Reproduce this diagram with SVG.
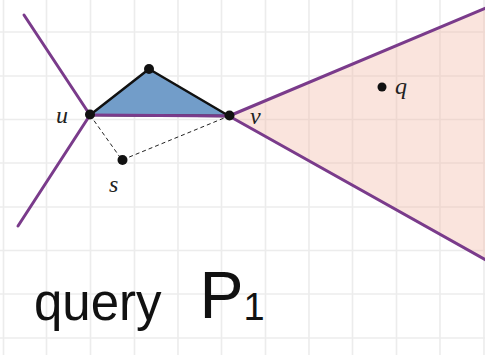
<svg xmlns="http://www.w3.org/2000/svg" width="485" height="355" viewBox="0 0 485 355">
<style>
.grid line{stroke:#ececec;stroke-width:1.6}
.ray{stroke:#7a3b8b;stroke-width:3;fill:none;stroke-linecap:round}
.dot{fill:#111}
.lbl{font-family:"Liberation Serif",serif;font-style:italic;font-size:24px;fill:#222}
.dash{stroke:#222;stroke-width:1;stroke-dasharray:4 3;fill:none}
.hand{font-family:"Liberation Sans",sans-serif;fill:#111}
</style>
<rect width="485" height="355" fill="#fff"/>
<g class="grid">
<line x1="3.5" y1="0" x2="3.5" y2="355"/><line x1="46.5" y1="0" x2="46.5" y2="355"/><line x1="90.5" y1="0" x2="90.5" y2="355"/><line x1="134.5" y1="0" x2="134.5" y2="355"/><line x1="178" y1="0" x2="178" y2="355"/><line x1="221.5" y1="0" x2="221.5" y2="355"/><line x1="265.5" y1="0" x2="265.5" y2="355"/><line x1="309" y1="0" x2="309" y2="355"/><line x1="352.5" y1="0" x2="352.5" y2="355"/><line x1="396.5" y1="0" x2="396.5" y2="355"/><line x1="440" y1="0" x2="440" y2="355"/><line x1="484" y1="0" x2="484" y2="355"/>
<line x1="0" y1="32" x2="485" y2="32"/><line x1="0" y1="76" x2="485" y2="76"/><line x1="0" y1="119.5" x2="485" y2="119.5"/><line x1="0" y1="163" x2="485" y2="163"/><line x1="0" y1="207" x2="485" y2="207"/><line x1="0" y1="250.5" x2="485" y2="250.5"/><line x1="0" y1="294" x2="485" y2="294"/><line x1="0" y1="338" x2="485" y2="338"/>
</g>
<g id="region">
<polygon points="229,116 485,8 485,260" fill="#f3b9a6" fill-opacity="0.38"/>
</g>
<g id="triangle">
<polygon points="90,115 149,69 229,116" fill="#729dc9" stroke="#111" stroke-width="2.5" stroke-linejoin="round"/>
</g>
<g id="connectors">
<line class="ray" x1="90" y1="115" x2="24" y2="15"/>
<line class="ray" x1="90" y1="115" x2="18" y2="226"/>
<line class="ray" x1="229" y1="116" x2="486" y2="8"/>
<line class="ray" x1="229" y1="116" x2="486" y2="260"/>
<line class="ray" x1="90" y1="115" x2="229" y2="116" stroke-width="3.5"/>
<polyline class="dash" points="90,115 122,160 229,116"/>
</g>
<g id="node-u"><circle class="dot" cx="90" cy="114.5" r="5"/><text class="lbl" x="56" y="123">u</text></g>
<g id="node-w"><circle class="dot" cx="149" cy="69" r="5"/></g>
<g id="node-v"><circle class="dot" cx="229.5" cy="115.5" r="5"/><text class="lbl" x="250" y="124">v</text></g>
<g id="node-s"><circle class="dot" cx="122.5" cy="160" r="5"/><text class="lbl" x="109" y="192">s</text></g>
<g id="node-q"><circle class="dot" cx="382" cy="87" r="4.5"/><text class="lbl" x="395" y="94">q</text></g>
<g id="caption">
<text class="hand" x="34" y="320" font-size="51">query<tspan font-size="66" dx="38" dy="-2">P</tspan><tspan font-size="38" dx="0" dy="2">1</tspan></text>
</g>
</svg>
